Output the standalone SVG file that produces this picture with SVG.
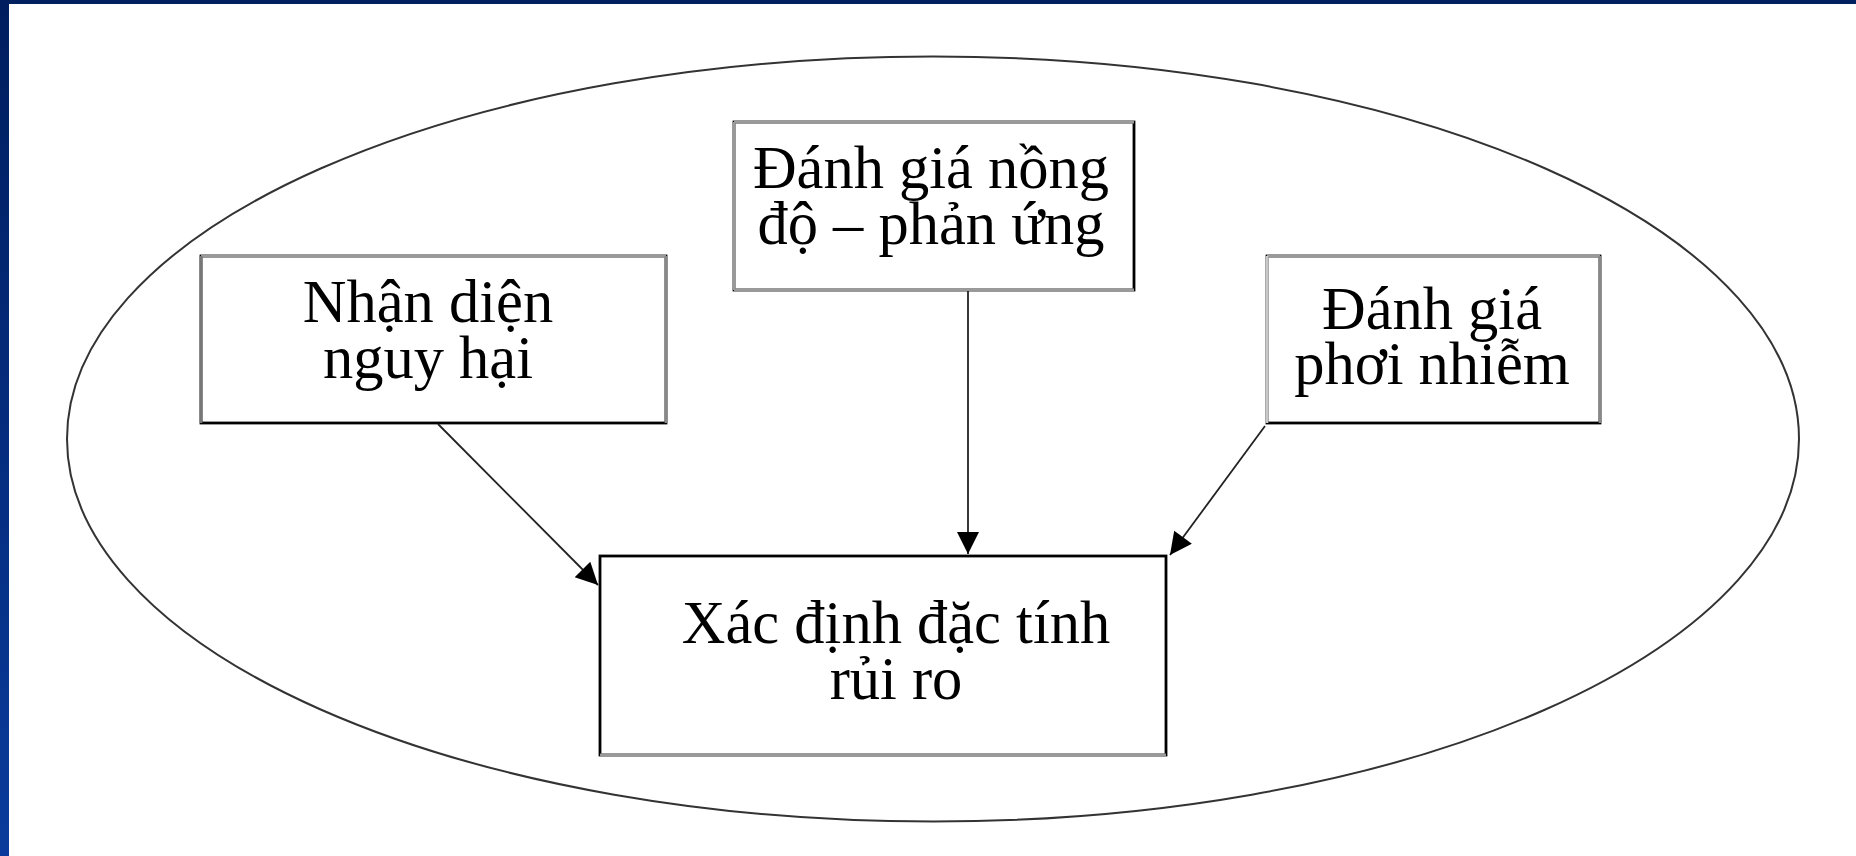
<svg xmlns="http://www.w3.org/2000/svg" width="1856" height="856" viewBox="0 0 1856 856">
<defs>
<linearGradient id="lb" x1="0" y1="0" x2="0" y2="1">
<stop offset="0" stop-color="#001d5e"/>
<stop offset="1" stop-color="#0a3b9c"/>
</linearGradient>
<marker id="ah" viewBox="0 0 10 10" refX="10" refY="5" markerWidth="25" markerHeight="22" markerUnits="userSpaceOnUse" orient="auto">
<path d="M0,0 L10,5 L0,10 Z" fill="#000"/>
</marker>
<style>
.box{fill:#fff;stroke:#000;stroke-width:2.8}
.gr{stroke:#9a9a9a;stroke-width:2.8}
.t{font-family:"Liberation Serif","Times New Roman",serif;font-size:60.5px;fill:#000;text-anchor:middle}
.c{stroke:#222;stroke-width:1.8;fill:none;marker-end:url(#ah)}
</style>
</defs>
<rect x="0" y="0" width="1856" height="856" fill="#fff"/>
<rect x="0" y="0" width="1856" height="4" fill="#002060"/>
<rect x="0" y="0" width="9" height="856" fill="url(#lb)"/>
<ellipse id="frame" cx="933" cy="439" rx="866" ry="382.5" fill="none" stroke="#333" stroke-width="2"/>
<g id="n1">
<rect class="box" x="201" y="256" width="465" height="167"/>
<line class="gr" x1="201" y1="256" x2="666" y2="256"/>
<line x1="201" y1="256" x2="201" y2="423" stroke="#777" stroke-width="2.8"/>
<line x1="666" y1="256" x2="666" y2="423" stroke="#888" stroke-width="2.8"/>
<text class="t" x="428" y="322">Nhận diện</text>
<text class="t" x="428" y="378">nguy hại</text>
</g>
<g id="n2">
<rect class="box" x="734" y="122" width="400" height="168"/>
<line class="gr" x1="734" y1="122" x2="1134" y2="122"/>
<line class="gr" x1="734" y1="122" x2="734" y2="290"/>
<line class="gr" x1="734" y1="290" x2="1134" y2="290"/>
<text class="t" x="931" y="188">Đánh giá nồng</text>
<text class="t" x="931" y="244">độ – phản ứng</text>
</g>
<g id="n3">
<rect class="box" x="1267" y="256" width="333" height="167"/>
<line class="gr" x1="1267" y1="256" x2="1600" y2="256"/>
<line x1="1267" y1="256" x2="1267" y2="423" stroke="#c8c8c8" stroke-width="2.8"/>
<line x1="1600" y1="256" x2="1600" y2="423" stroke="#888" stroke-width="2.8"/>
<text class="t" x="1432" y="329">Đánh giá</text>
<text class="t" x="1432" y="384">phơi nhiễm</text>
</g>
<g id="n4">
<rect class="box" x="600" y="556" width="566" height="199"/>
<line class="gr" x1="600" y1="755" x2="1166" y2="755"/>
<text class="t" x="896" y="643">Xác định đặc tính</text>
<text class="t" x="896" y="699">rủi ro</text>
</g>
<g id="connectors">
<line class="c" x1="438" y1="424" x2="598" y2="585"/>
<line class="c" x1="968" y1="291" x2="968" y2="554"/>
<line class="c" x1="1265" y1="426" x2="1170" y2="555"/>
</g>
</svg>
